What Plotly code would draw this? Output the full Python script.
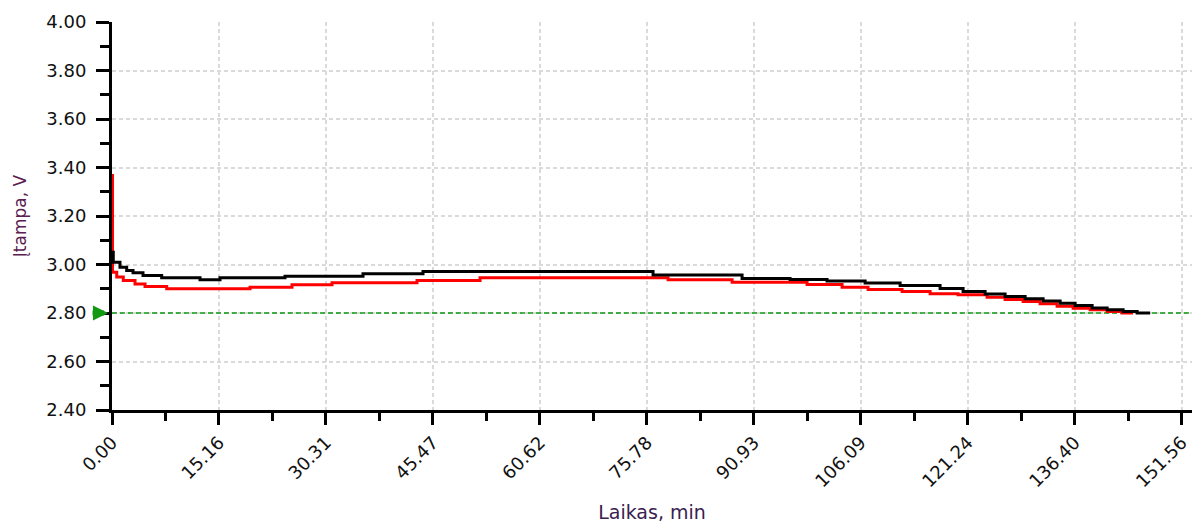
import plotly.graph_objects as go

# Discharge curves: time (min) and voltage (V)
black_t = [0.00, 0.18, 1.13, 2.08, 2.98, 4.39, 7.04, 12.47, 15.30, 24.51, 35.56,
           44.06, 76.65, 89.26, 96.06, 101.30, 106.69, 111.65, 117.31, 120.57,
           123.69, 126.52, 129.36, 131.91, 134.32, 136.44, 138.85, 140.98,
           143.24, 145.23, 147.07]
black_v = [3.051, 3.009, 2.989, 2.975, 2.966, 2.955, 2.945, 2.937, 2.945, 2.952,
           2.962, 2.971, 2.957, 2.942, 2.938, 2.932, 2.924, 2.913, 2.901, 2.889,
           2.878, 2.868, 2.859, 2.849, 2.840, 2.831, 2.821, 2.813, 2.806, 2.800,
           2.800]

red_t = [0.00, 0.07, 0.67, 1.60, 3.26, 4.68, 7.75, 19.55, 25.50, 31.17, 43.21,
         52.14, 78.78, 87.85, 98.47, 103.43, 107.11, 111.93, 115.90, 119.86,
         123.97, 126.52, 129.07, 131.48, 133.89, 136.16, 138.57, 140.98, 143.10,
         144.66]
red_v = [3.367, 2.968, 2.948, 2.934, 2.920, 2.909, 2.900, 2.906, 2.916, 2.925,
         2.934, 2.945, 2.937, 2.927, 2.918, 2.906, 2.897, 2.889, 2.879, 2.875,
         2.865, 2.856, 2.847, 2.838, 2.828, 2.820, 2.813, 2.806, 2.800, 2.800]

cutoff_v = 2.80

x_tickvals = [0.0, 15.1555, 30.311, 45.4665, 60.622, 75.7775, 90.933, 106.0885,
              121.244, 136.3995, 151.555]
x_ticktext = ["0.00", "15.16", "30.31", "45.47", "60.62", "75.78", "90.93",
              "106.09", "121.24", "136.40", "151.56"]
x_minorvals = [(a + b) / 2 for a, b in zip(x_tickvals[:-1], x_tickvals[1:])]

x_max = 153.0
y_min, y_max = 2.40, 4.00

fig = go.Figure()

# cut-off voltage level
fig.add_trace(go.Scatter(
    x=[0, x_max], y=[cutoff_v, cutoff_v], mode="lines",
    line=dict(color="#119911", width=1.5, dash="5px,3px"),
    hoverinfo="skip", showlegend=False))

fig.add_trace(go.Scatter(
    x=red_t, y=red_v, mode="lines", line=dict(color="#ff0000", width=3, shape="hv"),
    showlegend=False))
fig.add_trace(go.Scatter(
    x=black_t, y=black_v, mode="lines", line=dict(color="#000000", width=3, shape="hv"),
    showlegend=False))

# marker arrow on the voltage axis at the cut-off level
fig.add_annotation(
    x=0, y=cutoff_v, xref="x", yref="y", ax=-21, ay=0, text="",
    showarrow=True, arrowhead=2, arrowsize=0.6, arrowwidth=5,
    arrowcolor="#119911", standoff=4)

tick_font = dict(family="DejaVu Sans", size=18, color="#111111")
grid_style = dict(showgrid=True, gridcolor="#dadada", gridwidth=1.5, griddash="4px,3px")

fig.update_xaxes(
    range=[0, x_max], tickmode="array", tickvals=x_tickvals, ticktext=x_ticktext,
    tickangle=-45, tickfont=tick_font,
    showline=True, linecolor="black", linewidth=3,
    ticks="outside", ticklen=12, tickwidth=3, tickcolor="black",
    minor=dict(tickmode="array", tickvals=x_minorvals, ticks="outside",
               ticklen=8, tickwidth=3, tickcolor="black", showgrid=False),
    zeroline=False, **grid_style,
    title=dict(text="Laikas, min", font=dict(family="DejaVu Sans", size=19, color="#3a2050"),
               standoff=16))

fig.update_yaxes(
    range=[y_min, y_max], tick0=2.4, dtick=0.2, tickformat=".2f", tickfont=tick_font,
    ticklabelstandoff=6,
    showline=True, linecolor="black", linewidth=3,
    ticks="outside", ticklen=13, tickwidth=3, tickcolor="black",
    minor=dict(dtick=0.1, tick0=2.4, ticks="outside", ticklen=9, tickwidth=3,
               tickcolor="black", showgrid=False),
    zeroline=False, **grid_style,
    title=dict(text="Įtampa, V", font=dict(family="DejaVu Sans", size=17, color="#5a2050"),
               standoff=16))

fig.update_layout(
    width=1192, height=524,
    margin=dict(l=112, r=0, t=22, b=114),
    paper_bgcolor="white", plot_bgcolor="white",
    showlegend=False)

fig.write_html("out.html")
